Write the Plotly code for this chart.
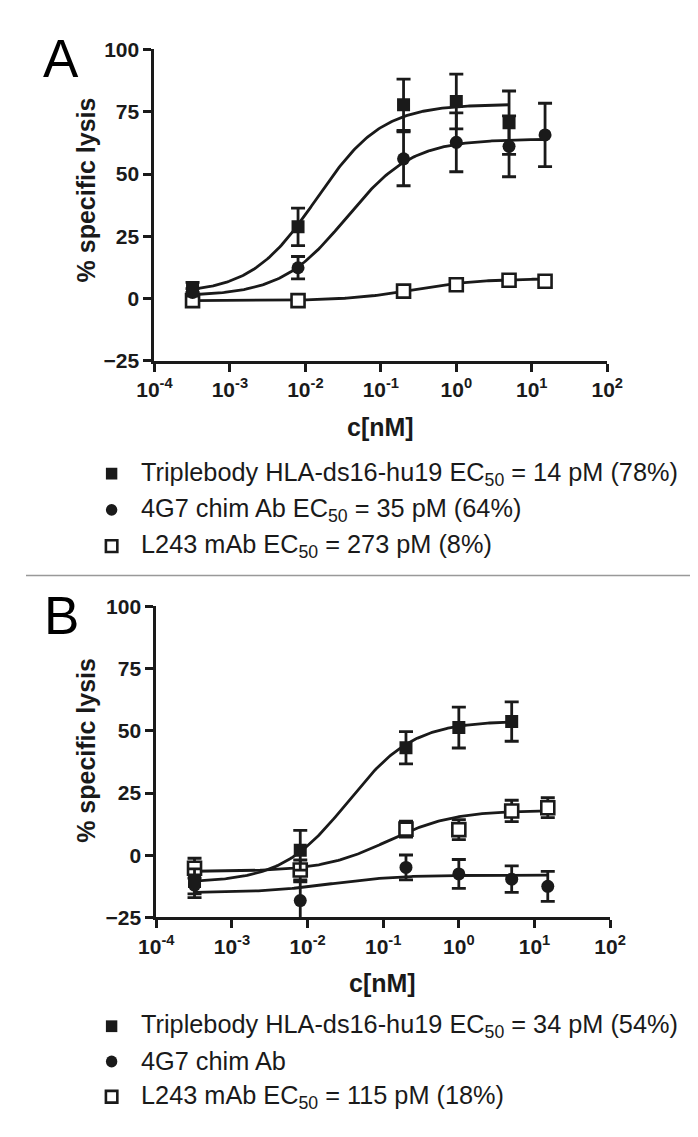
import numpy as np
import plotly.graph_objects as go

# ---------------- data ----------------
conc_tri = [0.00032, 0.008, 0.2, 1, 5]
conc_all = [0.00032, 0.008, 0.2, 1, 5, 15]

# Panel A
tri_A = [4.5, 28.8, 77.8, 79.1, 70.6]
tri_A_err = [2.0, 7.5, 10.3, 11.0, 12.7]
chim_A = [2.5, 12.4, 56.1, 62.7, 61.1, 65.7]
chim_A_err = [1.5, 4.5, 10.8, 11.8, 12.2, 12.7]
l243_A = [-0.8, -0.8, 3.0, 5.6, 7.4, 7.0]
l243_A_err = [0.8, 0.8, 0.8, 0.8, 0.8, 0.8]

# Panel B
tri_B = [-10.5, 2.0, 43.2, 51.3, 53.7]
tri_B_err = [5.0, 8.0, 6.5, 8.2, 7.9]
chim_B = [-12.0, -18.2, -4.9, -7.5, -9.6, -12.5]
chim_B_err = [5.0, 7.5, 5.0, 5.8, 5.3, 6.0]
l243_B = [-5.2, -5.9, 10.5, 10.3, 17.8, 19.1]
l243_B_err = [4.0, 4.0, 3.2, 4.0, 4.3, 4.0]

# Sigmoidal fit parameters (bottom, top, EC50 [nM], Hill slope)
fit_tri_A = [2.0, 78.0, 0.014, 1.0]
fit_chim_A = [1.0, 64.0, 0.035, 1.0]
fit_l243_A = [-0.8, 8.0, 0.273, 1.0]
fit_tri_B = [-11.0, 54.0, 0.034, 1.0]
fit_chim_B = [-15.0, -8.0, 0.02, 1.0]
fit_l243_B = [-6.5, 18.0, 0.115, 1.0]

legend_A = [
    "Triplebody HLA-ds16-hu19 EC<sub>50</sub> = 14 pM (78%)",
    "4G7 chim Ab EC<sub>50</sub> = 35 pM (64%)",
    "L243 mAb EC<sub>50</sub> = 273 pM (8%)",
]
legend_B = [
    "Triplebody HLA-ds16-hu19 EC<sub>50</sub> = 34 pM (54%)",
    "4G7 chim Ab",
    "L243 mAb EC<sub>50</sub> = 115 pM (18%)",
]
x_tickvals = [1e-4, 1e-3, 1e-2, 1e-1, 1e0, 1e1, 1e2]
x_ticktext = ["10<sup>-4</sup>", "10<sup>-3</sup>", "10<sup>-2</sup>", "10<sup>-1</sup>",
              "10<sup>0</sup>", "10<sup>1</sup>", "10<sup>2</sup>"]
y_tickvals = [-25, 0, 25, 50, 75, 100]

# ---------------- figure ----------------
W, H = 698, 1137
INK = "#1a1a1a"
FONT = "Liberation Sans"


def px(x):
    return x / W


def py(y):
    return 1 - y / H


def fit_curve(conc, p):
    bottom, top, ec50, hill = p
    xs = np.logspace(np.log10(min(conc)), np.log10(max(conc)), 200)
    ys = bottom + (top - bottom) / (1 + (ec50 / xs) ** hill)
    return xs, ys


fig = go.Figure()


def add_series(conc, vals, errs, fit, symbol, xa, ya):
    xs, ys = fit_curve(conc, fit)
    fig.add_trace(go.Scatter(x=xs, y=ys, mode="lines", line=dict(color=INK, width=2.8),
                             xaxis=xa, yaxis=ya, showlegend=False, hoverinfo="skip"))
    open_sym = symbol == "square-open"
    fig.add_trace(go.Scatter(
        x=conc, y=vals, mode="markers", xaxis=xa, yaxis=ya, showlegend=False,
        marker=dict(symbol="square" if open_sym else symbol, size=13,
                    color="white" if open_sym else INK,
                    line=dict(color=INK, width=2.6 if open_sym else 0)),
        error_y=dict(type="data", array=errs, visible=True, color=INK, thickness=2.8, width=7),
    ))


# Panel A (order: curves/errors then markers)
add_series(conc_all, l243_A, l243_A_err, fit_l243_A, "square-open", "x", "y")
add_series(conc_all, chim_A, chim_A_err, fit_chim_A, "circle", "x", "y")
add_series(conc_tri, tri_A, tri_A_err, fit_tri_A, "square", "x", "y")
# Panel B
add_series(conc_all, chim_B, chim_B_err, fit_chim_B, "circle", "x2", "y2")
add_series(conc_all, l243_B, l243_B_err, fit_l243_B, "square-open", "x2", "y2")
add_series(conc_tri, tri_B, tri_B_err, fit_tri_B, "square", "x2", "y2")

tickfont = dict(family=FONT, size=21, color=INK, weight="bold")


def xaxis_style(dom, anchor):
    return dict(type="log", range=[-4, 2], domain=dom, anchor=anchor,
                showline=True, linewidth=3, linecolor=INK, ticks="outside",
                ticklen=8, tickwidth=3, tickcolor=INK, tickvals=x_tickvals,
                ticktext=x_ticktext, tickfont=tickfont, showgrid=False, zeroline=False)


def yaxis_style(dom, anchor):
    return dict(range=[-25, 100], domain=dom, anchor=anchor,
                showline=True, linewidth=3, linecolor=INK, ticks="outside",
                ticklen=8, tickwidth=3, tickcolor=INK, tickvals=y_tickvals,
                tickfont=tickfont, showgrid=False, zeroline=False)


annotations = []
shapes = []


def panel_text(letter, letter_y, title_y, xlabel_y, legend_rows, legend_texts, axis_left):
    annotations.append(dict(text=letter, x=px(37), y=py(letter_y), xref="paper", yref="paper",
                            showarrow=False, font=dict(family=FONT, size=53, color="black"),
                            xanchor="center", yanchor="middle"))
    annotations.append(dict(text="% specific lysis", x=px(63), y=py(title_y), xref="paper",
                            yref="paper", showarrow=False, textangle=-90,
                            font=dict(family=FONT, size=25, color=INK, weight="bold"),
                            xanchor="center", yanchor="middle"))
    annotations.append(dict(text="c[nM]", x=px(373 + axis_left - 135), y=py(xlabel_y),
                            xref="paper", yref="paper", showarrow=False,
                            font=dict(family=FONT, size=25, color=INK, weight="bold"),
                            xanchor="center", yanchor="middle"))
    kinds = ["square", "circle", "open"]
    for row_y, txt, kind in zip(legend_rows, legend_texts, kinds):
        annotations.append(dict(text=txt, x=px(119), y=py(row_y), xref="paper", yref="paper",
                                showarrow=False, xanchor="left", yanchor="middle",
                                font=dict(family=FONT, size=25.3, color=INK)))
        s = 6
        if kind == "square":
            shapes.append(dict(type="rect", xref="paper", yref="paper", x0=px(90 - s), x1=px(90 + s),
                               y0=py(row_y + s), y1=py(row_y - s), fillcolor=INK, line=dict(width=0)))
        elif kind == "circle":
            shapes.append(dict(type="circle", xref="paper", yref="paper", x0=px(90 - s), x1=px(90 + s),
                               y0=py(row_y + s), y1=py(row_y - s), fillcolor=INK, line=dict(width=0)))
        else:
            shapes.append(dict(type="rect", xref="paper", yref="paper", x0=px(90 - s), x1=px(90 + s),
                               y0=py(row_y + s), y1=py(row_y - s), fillcolor="white",
                               line=dict(color=INK, width=2.6)))


panel_text("A", 39, 173, 415, [463, 500, 537], legend_A, 135)
panel_text("B", 608, 745, 983, [1027, 1063, 1099], legend_B, 137)

shapes.append(dict(type="line", xref="paper", yref="paper", x0=0, x1=1, y0=py(567), y1=py(567),
                   line=dict(color="#999999", width=1.5)))

fig.update_layout(
    width=W, height=H, margin=dict(l=0, r=0, t=0, b=0),
    paper_bgcolor="white", plot_bgcolor="white", showlegend=False,
    xaxis=xaxis_style([px(135), px(611)], "y"),
    yaxis=yaxis_style([py(348), py(30)], "x"),
    xaxis2=xaxis_style([px(137), px(614)], "y2"),
    yaxis2=yaxis_style([py(916), py(598.5)], "x2"),
    annotations=annotations, shapes=shapes,
)

fig.write_html("out.html")
